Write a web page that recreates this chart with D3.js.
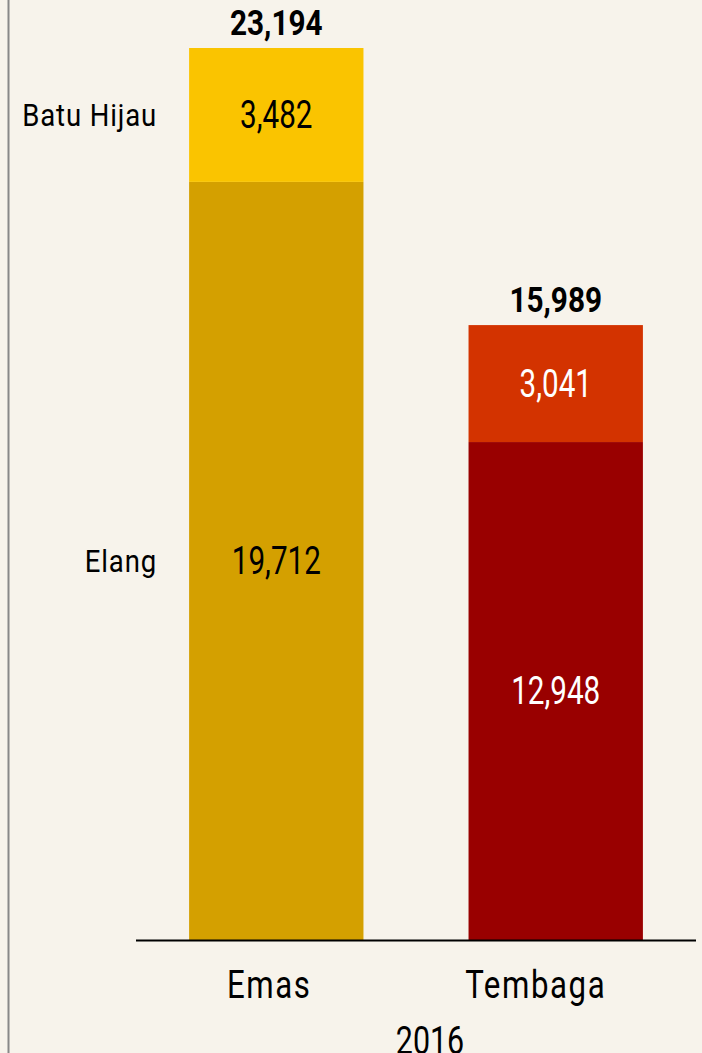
<!DOCTYPE html>
<html lang="en">
<head>
    <meta charset="UTF-8">
    <title>Emas dan Tembaga 2016</title>
    <script src="https://d3js.org/d3.v7.min.js"></script>
    <style>
        body { margin: 0; background: #f7f3eb; }
        text { font-family: "Roboto", sans-serif; }
    </style>
</head>
<body>
<div id="chart-container"></div>
<script>
    // Data
    const categories = ["Emas", "Tembaga"];
    const segments = ["Elang", "Batu Hijau"];
    const elangValues = [19712, 12948];
    const batuHijauValues = [3482, 3041];
    const totals = [23194, 15989];
    const yearLabel = "2016";

    const width = 702, height = 1053;
    const baseline = 940;

    const svg = d3.select("#chart-container")
        .append("svg")
        .attr("width", width)
        .attr("height", height);

    const xScale = d3.scaleBand()
        .domain(categories)
        .range([136, 696])
        .paddingInner(0.376)
        .paddingOuter(0.19);

    const yScale = d3.scaleLinear()
        .domain([0, 23194])
        .range([baseline, 48]);

    const data = categories.map((c, i) => ({
        cat: c,
        elang: elangValues[i],
        batu: batuHijauValues[i],
        total: totals[i]
    }));

    const colors = {
        Emas: { Elang: "#d4a000", "Batu Hijau": "#fac400", text: "#000" },
        Tembaga: { Elang: "#990000", "Batu Hijau": "#d33300", text: "#fff" }
    };

    // condensed text: Roboto squeezed horizontally
    function label(parent, x, y, str, opts) {
        const g = parent.append("g")
            .attr("transform", `translate(${x},${y}) scale(${opts.sx || 0.78},1)`);
        return g.append("text")
            .attr("text-anchor", opts.anchor || "middle")
            .attr("dy", opts.dy || null)
            .style("font-size", opts.size + "px")
            .style("font-weight", opts.weight || "normal")
            .style("letter-spacing", opts.ls || null)
            .attr("fill", opts.fill || "#000")
            .text(str);
    }

    // left vertical rule
    svg.append("line")
        .attr("x1", 8.5).attr("x2", 8.5)
        .attr("y1", 0).attr("y2", height)
        .attr("stroke", "#888").attr("stroke-width", 2);

    const fmt = d3.format(",");

    data.forEach(d => {
        const x0 = xScale(d.cat), cx = x0 + xScale.bandwidth() / 2;

        // Elang (bottom)
        svg.append("rect")
            .attr("x", x0)
            .attr("width", xScale.bandwidth())
            .attr("y", yScale(d.elang))
            .attr("height", baseline - yScale(d.elang))
            .attr("fill", colors[d.cat].Elang);

        // Batu Hijau (top)
        svg.append("rect")
            .attr("x", x0)
            .attr("width", xScale.bandwidth())
            .attr("y", yScale(d.elang + d.batu))
            .attr("height", yScale(d.elang) - yScale(d.elang + d.batu))
            .attr("fill", colors[d.cat]["Batu Hijau"]);

        label(svg, cx, (yScale(0) + yScale(d.elang)) / 2, fmt(d.elang),
            { size: 38, dy: "0.35em", fill: colors[d.cat].text });
        label(svg, cx, (yScale(d.elang) + yScale(d.elang + d.batu)) / 2, fmt(d.batu),
            { size: 38, dy: "0.35em", fill: colors[d.cat].text });

        // totals
        label(svg, cx, yScale(d.total) - 13, fmt(d.total),
            { size: 35, weight: "bold", sx: 0.85 });
    });

    // segment names at left of first bar
    const first = data[0];
    const segMid = [
        (yScale(0) + yScale(first.elang)) / 2,
        (yScale(first.elang) + yScale(first.elang + first.batu)) / 2
    ];
    segments.forEach((s, i) => {
        label(svg, 157, segMid[i], s,
            { size: 32, dy: "0.35em", anchor: "end", sx: 0.86, ls: "1px" });
    });

    // baseline
    svg.append("line")
        .attr("x1", 136).attr("x2", 696)
        .attr("y1", baseline + 0.5).attr("y2", baseline + 0.5)
        .attr("stroke", "#000").attr("stroke-width", 2);

    // x axis labels (sit slightly left of the bar centres in the original)
    const labelShift = [-7, -20];
    categories.forEach((c, i) => {
        label(svg, xScale(c) + xScale.bandwidth() / 2 + labelShift[i], 998, c,
            { size: 39, sx: 0.8, ls: "2px" });
    });

    label(svg, 430, 1054, yearLabel, { size: 39, sx: 0.78 });
</script>
</body>
</html>
